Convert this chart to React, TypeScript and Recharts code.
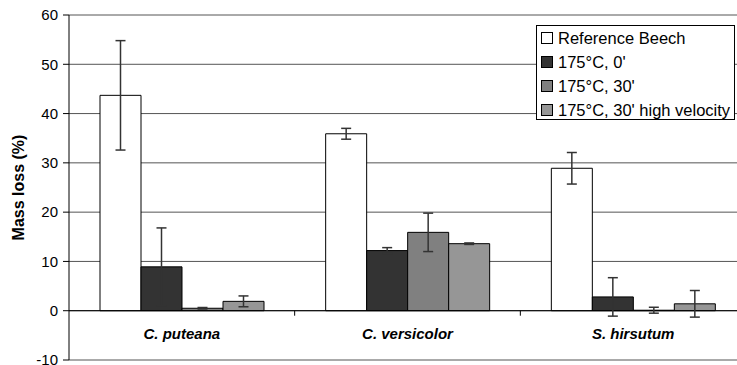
import {
  Bar,
  BarChart,
  CartesianGrid,
  ErrorBar,
  Legend,
  ReferenceLine,
  XAxis,
  YAxis,
} from "recharts";

const categories = ["C. puteana", "C. versicolor", "S. hirsutum"];

const referenceBeech = [43.7, 35.9, 28.9];
const referenceBeechErr = [11.1, 1.1, 3.2];
const temp0 = [8.9, 12.2, 2.8];
const temp0Err = [7.9, 0.6, 3.9];
const temp30 = [0.5, 15.9, 0.1];
const temp30Err = [0.15, 3.9, 0.6];
const temp30High = [1.9, 13.6, 1.4];
const temp30HighErr = [1.1, 0.15, 2.7];

const yTicks = [-10, 0, 10, 20, 30, 40, 50, 60];

// note: "ref" can't be used as a data key, recharts spreads rows onto elements
const series = [
  { key: "beech", name: "Reference Beech", fill: "#ffffff" },
  { key: "t0", name: "175°C, 0'", fill: "#333333" },
  { key: "t30", name: "175°C, 30'", fill: "#808080" },
  { key: "hv", name: "175°C, 30' high velocity", fill: "#969696" },
];

const data = categories.map((name, i) => ({
  name,
  beech: referenceBeech[i],
  beechErr: referenceBeechErr[i],
  t0: temp0[i],
  t0Err: temp0Err[i],
  t30: temp30[i],
  t30Err: temp30Err[i],
  hv: temp30High[i],
  hvErr: temp30HighErr[i],
}));

const CHART_W = 746;
const CHART_H = 365;
const YAXIS_W = 69;
const PLOT_TOP = 15;
const XAXIS_H = 5;
const PLOT_H = CHART_H - PLOT_TOP - XAXIS_H;
const Y_MIN = -10;
const Y_MAX = 60;
const zeroY = PLOT_TOP + (PLOT_H * Y_MAX) / (Y_MAX - Y_MIN);
const bandWidth = (CHART_W - YAXIS_W) / categories.length;
const FONT = '"Liberation Sans", Arial, sans-serif';

function renderCategoryTick(props: any) {
  const { x, payload, index } = props;
  return (
    <g key={`tick-${index}`}>
      {index > 0 ? (
        <line
          x1={x - bandWidth / 2}
          x2={x - bandWidth / 2}
          y1={zeroY}
          y2={zeroY + 5}
          stroke="#000"
        />
      ) : null}
      <text
        x={x}
        y={zeroY + 28}
        textAnchor="middle"
        fontSize={15}
        fontWeight="bold"
        fontStyle="italic"
        fill="#000"
        fontFamily={FONT}
      >
        {payload.value}
      </text>
    </g>
  );
}

function renderLegend(props: any) {
  const payload = props.payload || [];
  const order = series.map((s) => s.name);
  const entries = [...payload].sort(
    (a: any, b: any) => order.indexOf(a.value) - order.indexOf(b.value),
  );
  return (
    <div
      style={{
        border: "1px solid #000",
        background: "#fff",
        boxSizing: "border-box",
        width: 199,
        height: 95,
        fontSize: 16.5,
        fontFamily: FONT,
        color: "#000",
        paddingLeft: 4,
      }}
    >
      {entries.map((entry: any) => (
        <div
          key={entry.value}
          style={{ display: "flex", alignItems: "center", height: 24 }}
        >
          <span
            style={{
              display: "inline-block",
              width: 10,
              height: 10,
              border: "1px solid #000",
              background: entry.color,
              marginRight: 5,
            }}
          />
          <span style={{ whiteSpace: "nowrap" }}>{entry.value}</span>
        </div>
      ))}
    </div>
  );
}

export default function App() {
  return (
    <div
      style={{
        position: "absolute",
        left: 0,
        top: 0,
        width: 737,
        height: 365,
        overflow: "hidden",
        background: "#fff",
        fontFamily: FONT,
      }}
    >
      <BarChart
        width={CHART_W}
        height={CHART_H}
        data={data}
        margin={{ top: PLOT_TOP, right: 0, bottom: 0, left: 0 }}
        barGap={0}
        barSize={41}
      >
        <CartesianGrid vertical={false} stroke="#555" />
        <XAxis
          dataKey="name"
          axisLine={false}
          tickLine={false}
          tick={renderCategoryTick}
          height={XAXIS_H}
          interval={0}
        />
        <YAxis
          width={YAXIS_W}
          domain={[Y_MIN, Y_MAX]}
          ticks={yTicks}
          interval={0}
          axisLine={{ stroke: "#000" }}
          tickLine={{ stroke: "#000" }}
          tickSize={6}
          tickMargin={5}
          tick={{ fill: "#000", fontSize: 15 }}
          label={{
            value: "Mass loss (%)",
            angle: -90,
            position: "center",
            dx: -16,
            fill: "#000",
            fontSize: 16,
            fontWeight: "bold",
          }}
        />
        <ReferenceLine y={0} stroke="#000" />
        {series.map((s) => (
          <Bar
            key={s.key}
            dataKey={s.key}
            name={s.name}
            fill={s.fill}
            stroke="#000"
            strokeWidth={1}
            isAnimationActive={false}
          >
            <ErrorBar
              dataKey={`${s.key}Err`}
              width={5}
              stroke="#333"
              strokeWidth={1.5}
            />
          </Bar>
        ))}
        <Legend
          layout="horizontal"
          verticalAlign="middle"
          align="center"
          content={renderLegend}
          wrapperStyle={{ left: 536, top: 25, width: 199, height: 95 }}
        />
      </BarChart>
    </div>
  );
}
